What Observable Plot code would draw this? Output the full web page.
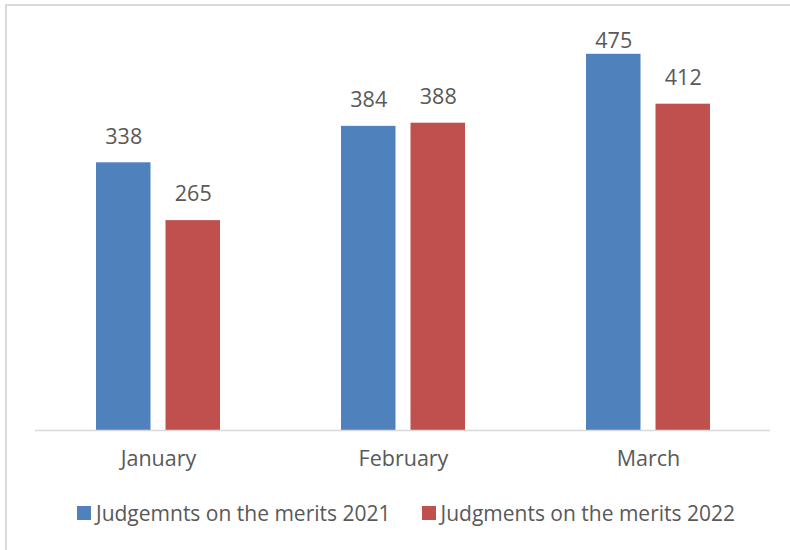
<!DOCTYPE html>
<html>
<head>
<meta charset="utf-8">
<script src="https://cdn.jsdelivr.net/npm/d3@7"></script>
<script src="https://cdn.jsdelivr.net/npm/@observablehq/plot@0.6"></script>
<style>
  html, body { margin: 0; padding: 0; background: #fff; overflow: hidden; }
  body { width: 790px; height: 550px; position: relative; font-family: "Open Sans", sans-serif; }
  #frame { position: absolute; left: 5px; top: 4px; width: 900px; height: 700px; border: 2px solid #d9d9d9; pointer-events: none; }
  #chart { position: absolute; left: 0; top: 0; }
  #legend { position: absolute; left: 77px; top: 499px; display: flex; align-items: center; font-size: 21px; color: #595959; white-space: nowrap; }
  .item { display: flex; align-items: center; margin-right: 31px; }
  .sw { width: 14px; height: 14px; margin-right: 5px; }
</style>
</head>
<body>
<div id="chart"></div>
<div id="frame"></div>
<div id="legend"></div>
<script>
const months = ["January", "February", "March"];
const series = ["Judgemnts on the merits 2021", "Judgments on the merits 2022"];
const values2021 = [338, 384, 475];
const values2022 = [265, 388, 412];
const colors = ["#4f81bd", "#c0504d"];

const d2021 = months.map((m, i) => ({month: m, value: values2021[i]}));
const d2022 = months.map((m, i) => ({month: m, value: values2022[i]}));

const textColor = "#595959";
const fs = 21.5;
const inset = 69.5;
const half = 34.75;
const pxPerUnit = 395.8 / 500;
const labelY = d => Math.min(d.value + 26 / pxPerUnit, (430 - 41) / pxPerUnit);

const chart = Plot.plot({
  width: 790,
  height: 490,
  marginLeft: 35,
  marginRight: 20,
  marginTop: 34,
  marginBottom: 60,
  style: {fontFamily: "Open Sans, sans-serif", color: textColor, background: "transparent"},
  x: {domain: months, paddingInner: 0.494, paddingOuter: 0.247, label: null},
  y: {domain: [0, 500], axis: null},
  marks: [
    Plot.barY(d2021, {x: "month", y: "value", fill: colors[0], insetRight: inset}),
    Plot.barY(d2022, {x: "month", y: "value", fill: colors[1], insetLeft: inset}),
    Plot.ruleY([0], {stroke: "#d9d9d9", strokeWidth: 1.5}),
    Plot.text(d2021, {x: "month", y: labelY, text: d => String(d.value), dx: -half, fill: textColor, fontSize: fs, lineAnchor: "middle"}),
    Plot.text(d2022, {x: "month", y: labelY, text: d => String(d.value), dx: half, fill: textColor, fontSize: fs, lineAnchor: "middle"}),
    Plot.axisX({anchor: "bottom", tickSize: 0, tickPadding: 20, fontSize: fs, fill: textColor, label: null})
  ]
});
document.getElementById("chart").appendChild(chart);

const legend = document.getElementById("legend");
series.forEach((s, i) => {
  const item = document.createElement("div");
  item.className = "item";
  const sw = document.createElement("div");
  sw.className = "sw";
  sw.style.background = colors[i];
  const t = document.createElement("span");
  t.textContent = s;
  item.appendChild(sw);
  item.appendChild(t);
  legend.appendChild(item);
});
</script>
</body>
</html>
